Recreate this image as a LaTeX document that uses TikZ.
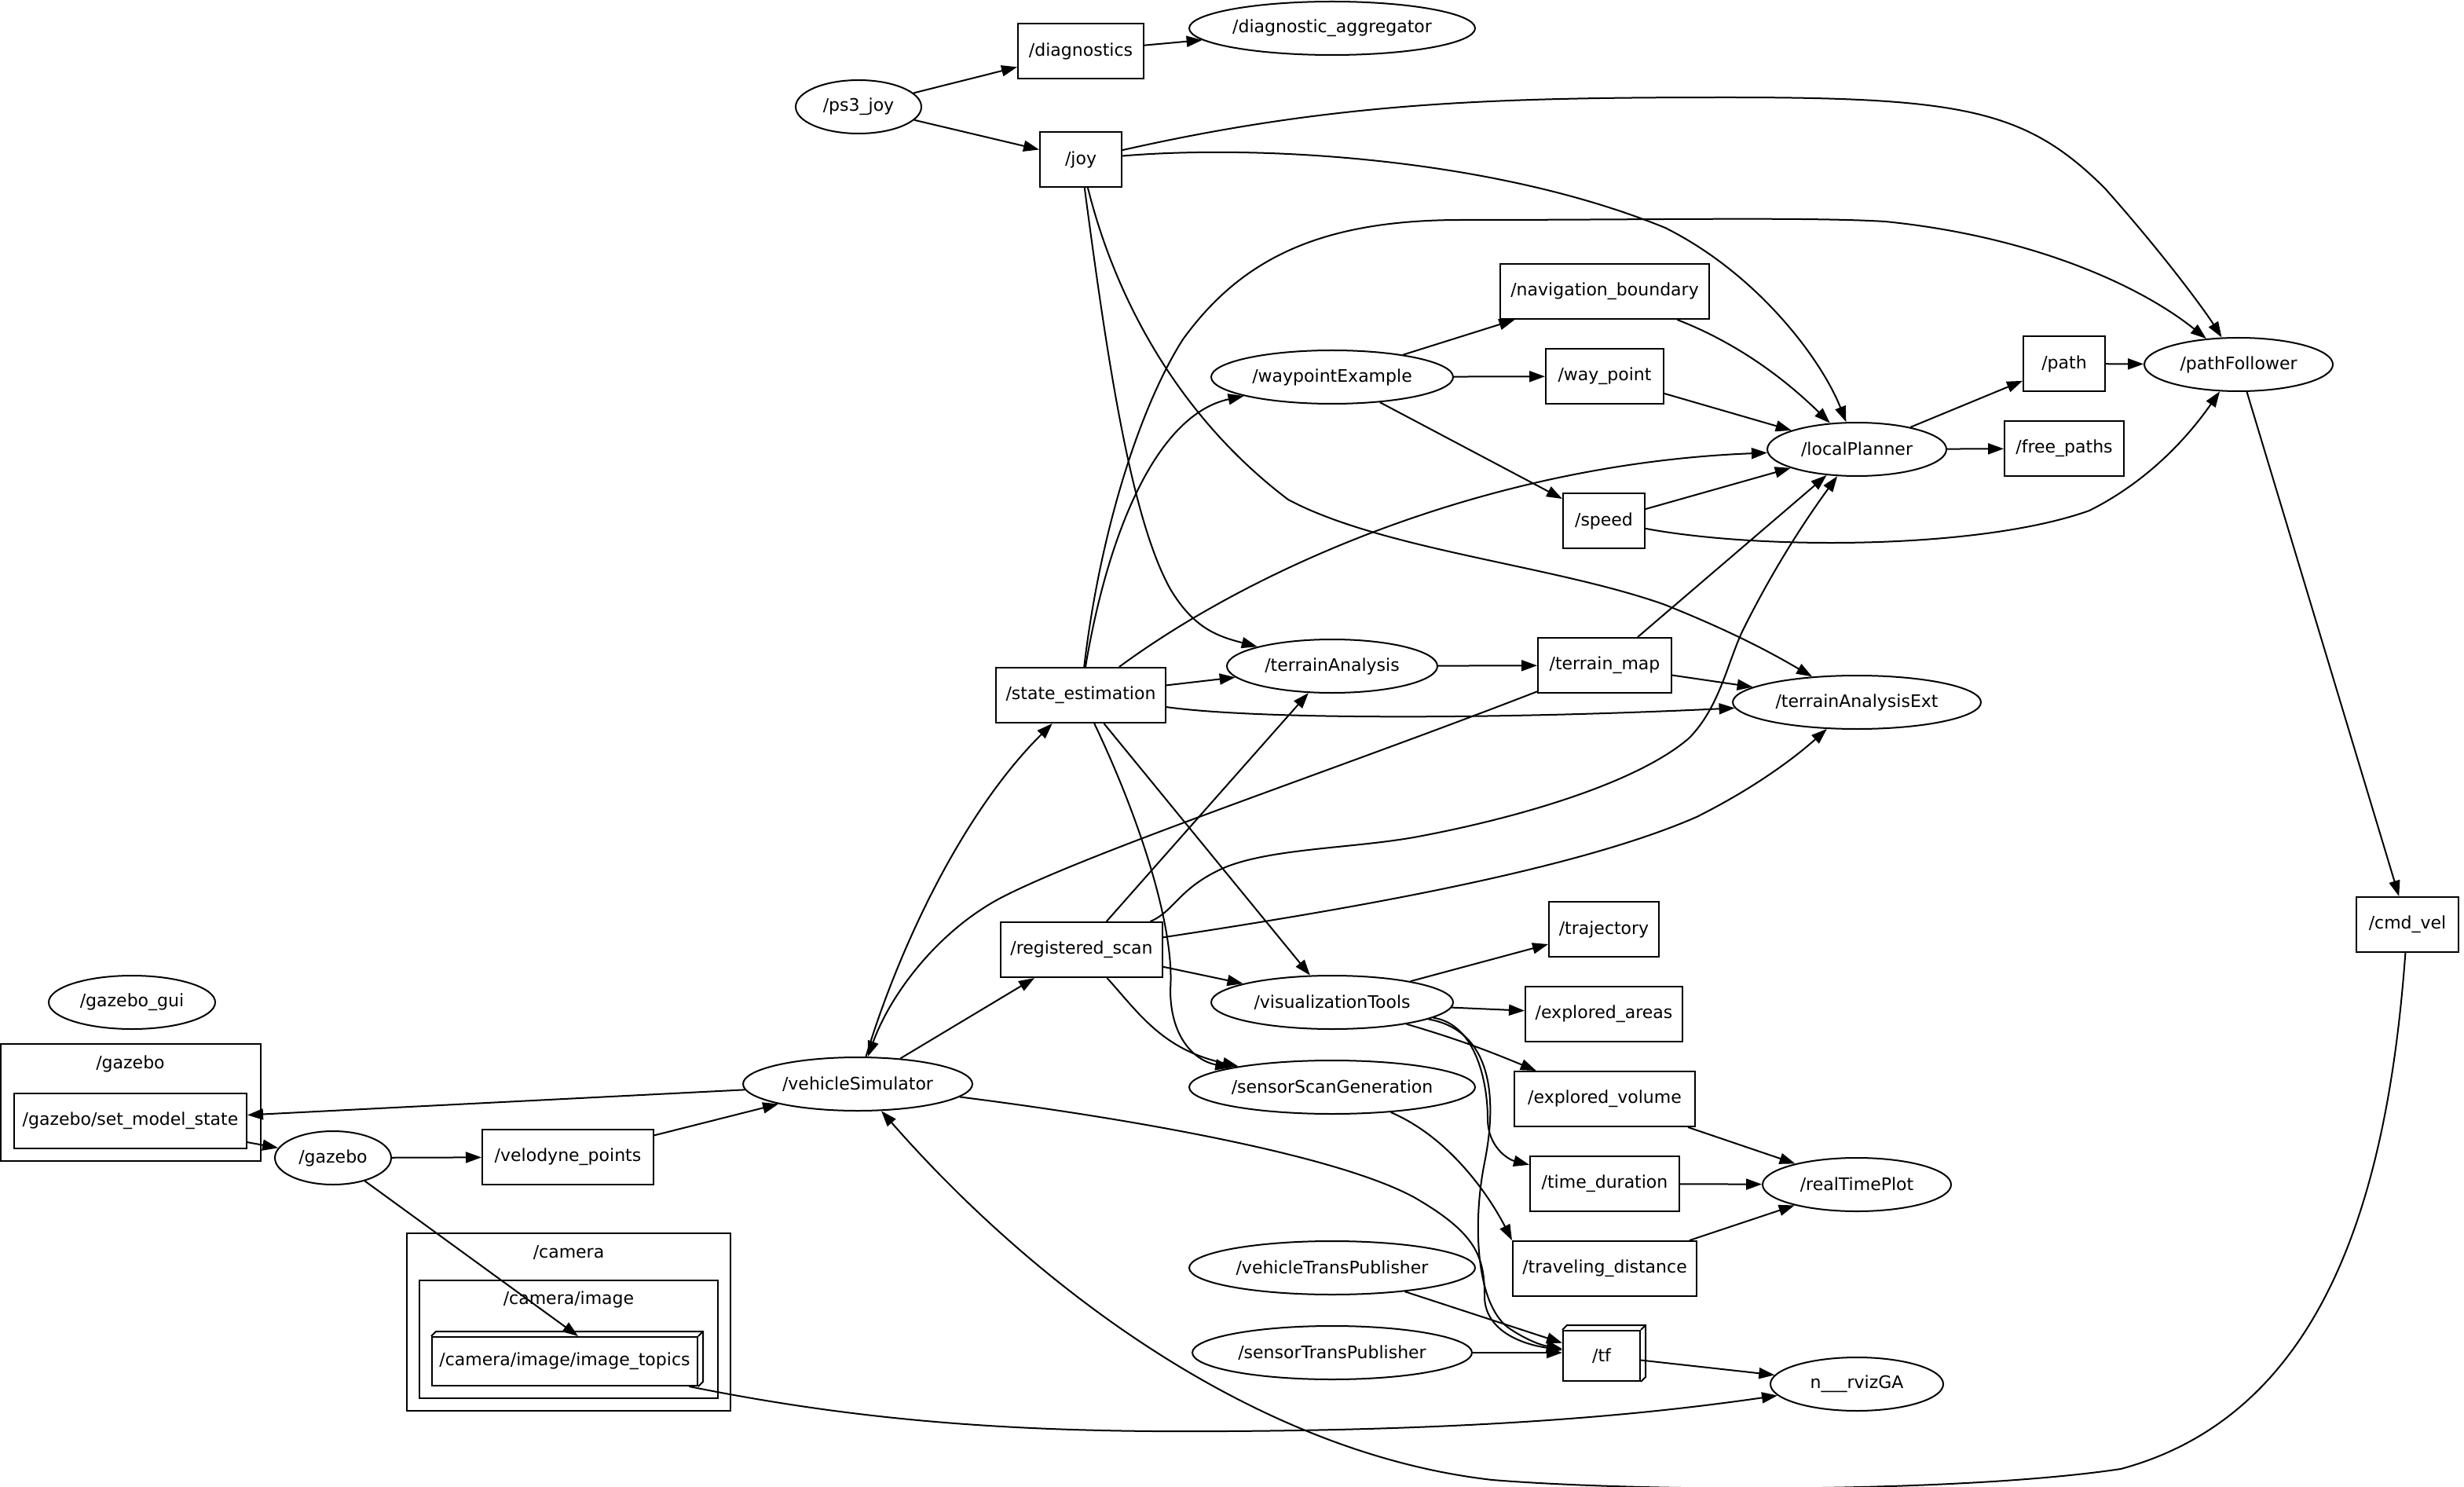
\documentclass[tikz,border=0pt]{standalone}
\usepackage{fontspec}
\setmainfont{DejaVu Sans}
\usetikzlibrary{shapes.geometric,arrows.meta,calc}
\begin{document}
\begin{tikzpicture}[x=1pt,y=-1pt,font=\fontsize{11}{13}\selectfont,
  nd/.style={ellipse,draw,line width=1pt,inner sep=0pt,minimum height=34pt},
  tp/.style={rectangle,draw,line width=1pt,inner sep=0pt,minimum height=35pt},
  ed/.style={draw,line width=1pt,-{Triangle[length=10pt,width=7pt]}},
  cl/.style={draw,line width=1pt},
  b3/.style={line width=1pt}]
\useasboundingbox (0,0) rectangle (1568.5,946.5);
% clusters
\draw[cl] (0.5,664.5) rectangle (166,739);
\node (lgazebo) at (83,677) {/gazebo};
\draw[cl] (259,785) rectangle (465,898);
\node (lcamera) at (362,797) {/camera};
\draw[cl] (267,815) rectangle (457,890);
\node (lcamimg) at (362,827) {/camera/image};
% ellipse nodes
\node[nd,minimum width=80pt] (ps3joy) at (546.5,68) {/ps3\_joy};
\node[nd,minimum width=182pt] (diagagg) at (848,18) {/diagnostic\_aggregator};
\node[nd,minimum width=154pt] (waypoint) at (848,240) {/waypointExample};
\node[nd,minimum width=114pt] (localplanner) at (1182,286) {/localPlanner};
\node[nd,minimum width=120pt] (pathfollower) at (1425,232) {/pathFollower};
\node[nd,minimum width=134pt] (terrainanalysis) at (848,424) {/terrainAnalysis};
\node[nd,minimum width=158pt] (terrainext) at (1182,447) {/terrainAnalysisExt};
\node[nd,minimum width=154pt] (viztools) at (848,638) {/visualizationTools};
\node[nd,minimum width=182pt] (sensorscan) at (848,692) {/sensorScanGeneration};
\node[nd,minimum width=146pt] (vehsim) at (546,690) {/vehicleSimulator};
\node[nd,minimum width=74pt] (gazebo) at (212,737) {/gazebo};
\node[nd,minimum width=106pt] (gazebogui) at (84,638) {/gazebo\_gui};
\node[nd,minimum width=120pt] (realtime) at (1182,754) {/realTimePlot};
\node[nd,minimum width=182pt] (vehtrans) at (848,807) {/vehicleTransPublisher};
\node[nd,minimum width=178pt] (sensortrans) at (848,861) {/sensorTransPublisher};
\node[nd,minimum width=110pt] (rviz) at (1182,881) {n\_\_\_rvizGA};
% topic boxes
\node[tp,minimum width=80pt] (diagnostics) at (688,32.5) {/diagnostics};
\node[tp,minimum width=52pt] (joy) at (688,101.5) {/joy};
\node[tp,minimum width=133pt] (navbound) at (1021.5,185.5) {/navigation\_boundary};
\node[tp,minimum width=75pt] (waypt) at (1021.5,239.5) {/way\_point};
\node[tp,minimum width=52pt] (path) at (1314,231.5) {/path};
\node[tp,minimum width=76pt] (freepaths) at (1314,285.5) {/free\_paths};
\node[tp,minimum width=52pt] (speed) at (1021,331.5) {/speed};
\node[tp,minimum width=85pt] (terrainmap) at (1021.5,423.5) {/terrain\_map};
\node[tp,minimum width=108pt] (stateest) at (688,442.5) {/state\_estimation};
\node[tp,minimum width=103pt] (regscan) at (688.5,604.5) {/registered\_scan};
\node[tp,minimum width=70pt] (trajectory) at (1021,591.5) {/trajectory};
\node[tp,minimum width=100pt] (expareas) at (1021,645.5) {/explored\_areas};
\node[tp,minimum width=115pt] (expvol) at (1021.5,699.5) {/explored\_volume};
\node[tp,minimum width=95pt] (timedur) at (1021.5,753.5) {/time\_duration};
\node[tp,minimum width=117pt] (traveldist) at (1021.5,807.5) {/traveling\_distance};
\node[tp,minimum width=65pt] (cmdvel) at (1532.5,588.5) {/cmd\_vel};
\node[tp,minimum width=109pt] (velodyne) at (361.5,736.5) {/velodyne\_points};
\node[tp,minimum width=148pt] (setmodel) at (83,713.5) {/gazebo/set\_model\_state};
\node[tp,minimum width=49pt,minimum height=32pt] (tf) at (1019.5,863) {/tf};
\node[tp,minimum width=169pt,minimum height=31pt] (imagetopics) at (359.5,866.5) {/camera/image/image\_topics};
% box3d decorations
\draw[b3] (tf.north west) -- ++(3pt,3pt) -- ([shift={(3pt,3pt)}]tf.north east) -- ([shift={(3pt,3pt)}]tf.south east) -- (tf.south east);
\draw[b3] (tf.north east) -- ++(3pt,3pt);
\draw[b3] (imagetopics.north west) -- ++(3pt,3pt) -- ([shift={(3pt,3pt)}]imagetopics.north east) -- ([shift={(3pt,3pt)}]imagetopics.south east) -- (imagetopics.south east);
\draw[b3] (imagetopics.north east) -- ++(3pt,3pt);
% edges
\draw[ed] (ps3joy) -- (diagnostics);
\draw[ed] (diagnostics) -- (diagagg);
\draw[ed] (ps3joy) -- (joy);
\draw[ed] (joy) .. controls (850,65) and (950,62) .. (1100,62) .. controls (1250,62) and (1290,70) .. (1340,120) .. controls (1380,165) and (1405,200) .. (pathfollower);
\draw[ed] (joy) .. controls (800,92) and (950,100) .. (1060,145) .. controls (1120,175) and (1160,230) .. (localplanner);
\draw[ed] (joy) .. controls (705,230) and (720,330) .. (745,375) .. controls (760,400) and (775,405) .. (terrainanalysis);
\draw[ed] (joy) .. controls (710,190) and (750,265) .. (820,318) .. controls (880,350) and (990,360) .. (1060,385) .. controls (1110,405) and (1135,420) .. (terrainext);
\draw[ed] (stateest) .. controls (700,340) and (725,260) .. (753,216) .. controls (790,165) and (840,140) .. (930,140) .. controls (1050,140) and (1150,138) .. (1200,141) .. controls (1290,150) and (1360,180) .. (pathfollower);
\draw[ed] (stateest) .. controls (705,340) and (736,264) .. (waypoint);
\draw[ed] (stateest) .. controls (800,360) and (950,295) .. (localplanner);
\draw[ed] (stateest) -- (terrainanalysis);
\draw[ed] (stateest) .. controls (800,458) and (950,458) .. (terrainext);
\draw[ed] (stateest) -- (viztools);
\draw[ed] (stateest) .. controls (725,520) and (748,590) .. (745,630) .. controls (745,660) and (760,675) .. (sensorscan);
\draw[ed] (waypoint) -- (navbound);
\draw[ed] (waypoint) -- (waypt);
\draw[ed] (waypoint) -- (speed);
\draw[ed] (navbound) .. controls (1110,220) and (1140,245) .. (localplanner);
\draw[ed] (waypt) -- (localplanner);
\draw[ed] (speed) -- (localplanner);
\draw[ed] (speed) .. controls (1120,350) and (1260,350) .. (1330,325) .. controls (1370,305) and (1395,275) .. (pathfollower);
\draw[ed] (localplanner) -- (path);
\draw[ed] (localplanner) -- (freepaths);
\draw[ed] (path) -- (pathfollower);
\draw[ed] (pathfollower) -- (cmdvel);
\draw[ed] (cmdvel) .. controls (1520,760) and (1480,900) .. (1350,935) .. controls (1250,950) and (1050,950) .. (950,942) .. controls (800,925) and (660,820) .. (vehsim);
\draw[ed] (terrainanalysis) -- (terrainmap);
\draw[ed] (terrainmap) -- (localplanner);
\draw[ed] (terrainmap) -- (terrainext);
\draw[ed] (terrainmap) .. controls (850,490) and (700,540) .. (640,570) .. controls (600,590) and (568,630) .. (vehsim);
\draw[ed] (regscan) -- (terrainanalysis);
\draw[ed] (regscan) .. controls (748,580) and (750,565) .. (780,552) .. controls (810,540) and (860,540) .. (900,533) .. controls (960,522) and (1040,500) .. (1075,470) .. controls (1095,450) and (1100,420) .. (1110,400) .. controls (1130,360) and (1150,330) .. (localplanner);
\draw[ed] (regscan) .. controls (850,580) and (1000,555) .. (1080,520) .. controls (1120,500) and (1145,480) .. (terrainext);
\draw[ed] (regscan) -- (viztools);
\draw[ed] (regscan) .. controls (725,645) and (740,668) .. (sensorscan);
\draw[ed] (vehsim) .. controls (570,610) and (610,520) .. (stateest);
\draw[ed] (vehsim) -- (regscan);
\draw[ed] (vehsim) -- (setmodel);
\draw[ed] (vehsim) .. controls (720,712) and (850,735) .. (900,762) .. controls (940,785) and (945,800) .. (945,825) .. controls (945,845) and (965,855) .. (tf);
\draw[ed] (gazebo) -- (velodyne);
\draw[ed] (velodyne) -- (vehsim);
\draw[ed] (setmodel) -- (gazebo);
\draw[ed] (gazebo) -- ([xshift=8.5pt]imagetopics.north);
\draw[ed] (imagetopics) .. controls (550,905) and (650,912) .. (780,911) .. controls (950,910) and (1050,900) .. (rviz);
\draw[ed] (tf) -- (rviz);
\draw[ed] (vehtrans) -- (tf);
\draw[ed] (sensortrans.east) -- (sensortrans.east -| tf.west);
\draw[ed] (viztools) -- (trajectory);
\draw[ed] (viztools) -- (expareas);
\draw[ed] (viztools) .. controls (930,662) and (950,670) .. (expvol);
\draw[ed] (viztools) .. controls (940,652) and (947,690) .. (947,712) .. controls (947,730) and (960,738) .. (timedur);
\draw[ed] (viztools) .. controls (945,655) and (955,690) .. (945,740) .. controls (937,780) and (940,830) .. (960,845) .. controls (970,852) and (980,856) .. (tf);
\draw[ed] (sensorscan) .. controls (925,725) and (950,765) .. (traveldist.north west);
\draw[ed] (expvol) -- (realtime);
\draw[ed] (timedur) -- (realtime);
\draw[ed] (traveldist) -- (realtime);
\end{tikzpicture}
\end{document}
